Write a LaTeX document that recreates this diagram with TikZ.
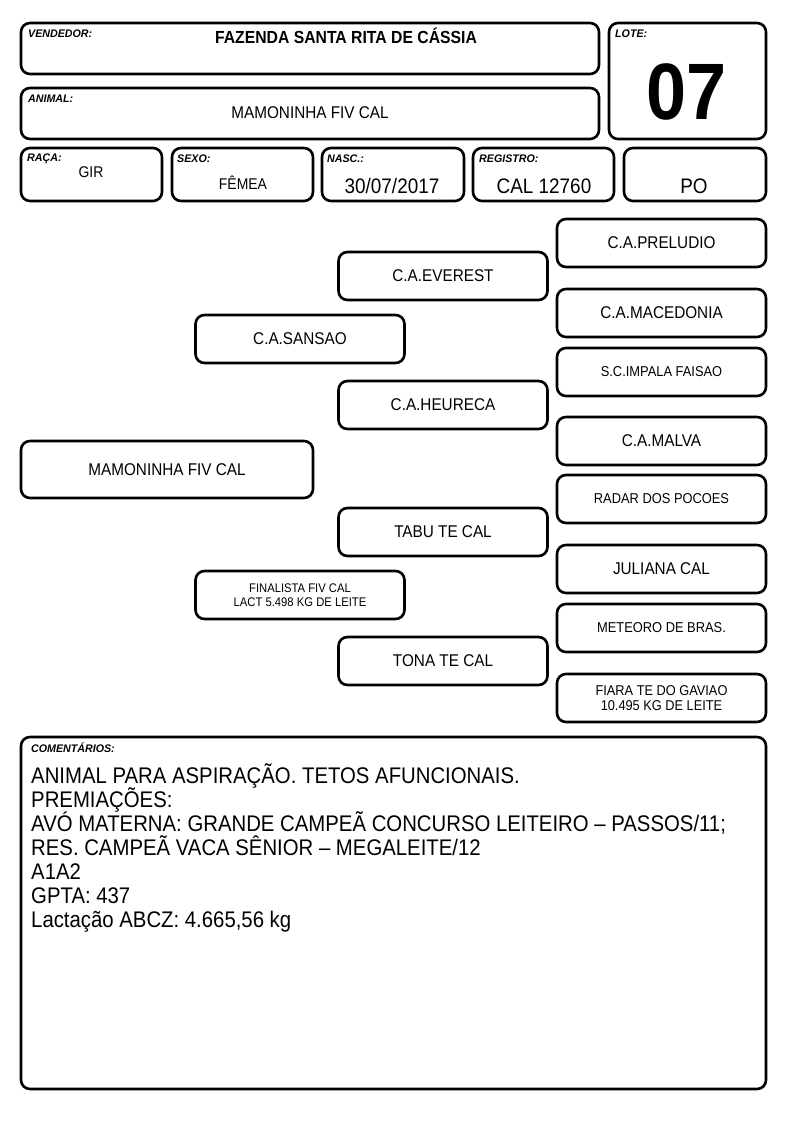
\documentclass[tikz,border=0pt]{standalone}
\usepackage{fontspec}
\setmainfont{Liberation Sans}[FakeStretch=0.9]
\newfontfamily\lblfamily{Liberation Sans}[FakeStretch=0.97]
\newcommand{\fs}[1]{\fontsize{#1}{#1}\selectfont}
\begin{document}
\begin{tikzpicture}[x=1pt,y=-1pt,
  box/.style={draw, line width=2.6pt, rounded corners=9pt, inner sep=0pt, minimum width=209, minimum height=48},
  lbl/.style={font=\lblfamily\bfseries\itshape\fs{11}, anchor=north west, inner sep=0pt},
  txt/.style={anchor=base, inner sep=0pt},
  ped/.style={box, font=\fs{17}, align=center},
  peds/.style={box, font=\fs{14.3}, align=center},
  cline/.style={anchor=base west, inner sep=0pt, font=\fs{22.6}}]
\useasboundingbox (0,0) rectangle (794,1123);
% header boxes
\node[box, minimum width=578, minimum height=51] (vend) at (310,48.5) {};
\node[box, minimum width=157, minimum height=116] (lote) at (687.5,81) {};
\node[box, minimum width=578, minimum height=51] (anim) at (310,113.5) {};
\node[box, minimum width=141, minimum height=53] (raca) at (91.5,174.5) {};
\node[box, minimum width=141, minimum height=53] (sexo) at (242.5,174.5) {};
\node[box, minimum width=142, minimum height=53] (nasc) at (393,174.5) {};
\node[box, minimum width=141, minimum height=53] (reg) at (543.5,174.5) {};
\node[box, minimum width=142, minimum height=53] (po) at (695,174.5) {};
% labels
\node[lbl] (lvend) at (28,30) {VENDEDOR:};
\node[lbl] (llote) at (615,30) {LOTE:};
\node[lbl] (lanim) at (28,95) {ANIMAL:};
\node[lbl] (lraca) at (27,154) {RAÇA:};
\node[lbl] (lsexo) at (177,155) {SEXO:};
\node[lbl] (lnasc) at (327,155) {NASC.:};
\node[lbl] (lreg) at (479,155) {REGISTRO:};
% header values
\node[txt, font=\bfseries\fs{17.5}] (tvend) at (346,44) {FAZENDA SANTA RITA DE CÁSSIA};
\node[txt, font=\fs{17}] (tanim) at (310,119) {MAMONINHA FIV CAL};
\node[txt, font=\bfseries\fs{80}] (tlote) at (687,120) {07};
\node[txt, font=\fs{15.5}] (traca) at (91,178) {GIR};
\node[txt, font=\fs{15.5}] (tsexo) at (243,190) {FÊMEA};
\node[txt, font=\fs{21}] (tnasc) at (392,194) {30/07/2017};
\node[txt, font=\fs{21}] (treg) at (544,194) {CAL 12760};
\node[txt, font=\fs{21}] (tpo) at (694,194) {PO};
% pedigree
\node[ped] (preludio) at (661.5,243) {C.A.PRELUDIO};
\node[ped] (everest) at (443,276) {C.A.EVEREST};
\node[ped] (macedonia) at (661.5,313) {C.A.MACEDONIA};
\node[ped] (sansao) at (300,339) {C.A.SANSAO};
\node[peds] (impala) at (661.5,372) {S.C.IMPALA FAISAO};
\node[ped] (heureca) at (443,405) {C.A.HEURECA};
\node[ped] (malva) at (661.5,441) {C.A.MALVA};
\node[ped, minimum width=292, minimum height=57] (mamoninha) at (167,469.5) {MAMONINHA FIV CAL};
\node[peds] (radar) at (661.5,499) {RADAR DOS POCOES};
\node[ped] (tabu) at (443,532) {TABU TE CAL};
\node[ped] (juliana) at (661.5,569) {JULIANA CAL};
\node[box, font=\fs{12.5}, align=center] (finalista) at (300,595) {FINALISTA FIV CAL\\[2pt]LACT 5.498 KG DE LEITE};
\node[peds] (meteoro) at (661.5,628) {METEORO DE BRAS.};
\node[ped] (tona) at (443,661) {TONA TE CAL};
\node[box, font=\fs{14.2}, align=center] (fiara) at (661.5,698) {FIARA TE DO GAVIAO\\[1pt]10.495 KG DE LEITE};
% comments
\node[box, minimum width=745, minimum height=352] (coment) at (393.5,913) {};
\node[lbl] (lcoment) at (31,743) {COMENTÁRIOS:};
\node[cline] (c1) at (31,783) {ANIMAL PARA ASPIRAÇÃO. TETOS AFUNCIONAIS.};
\node[cline] (c2) at (31,807) {PREMIAÇÕES:};
\node[cline] (c3) at (31,831) {AVÓ MATERNA: GRANDE CAMPEÃ CONCURSO LEITEIRO – PASSOS/11;};
\node[cline] (c4) at (31,855) {RES. CAMPEÃ VACA SÊNIOR – MEGALEITE/12};
\node[cline] (c5) at (31,879) {A1A2};
\node[cline] (c6) at (31,903) {GPTA: 437};
\node[cline] (c7) at (31,927) {Lactação ABCZ: 4.665,56 kg};
\end{tikzpicture}
\end{document}
